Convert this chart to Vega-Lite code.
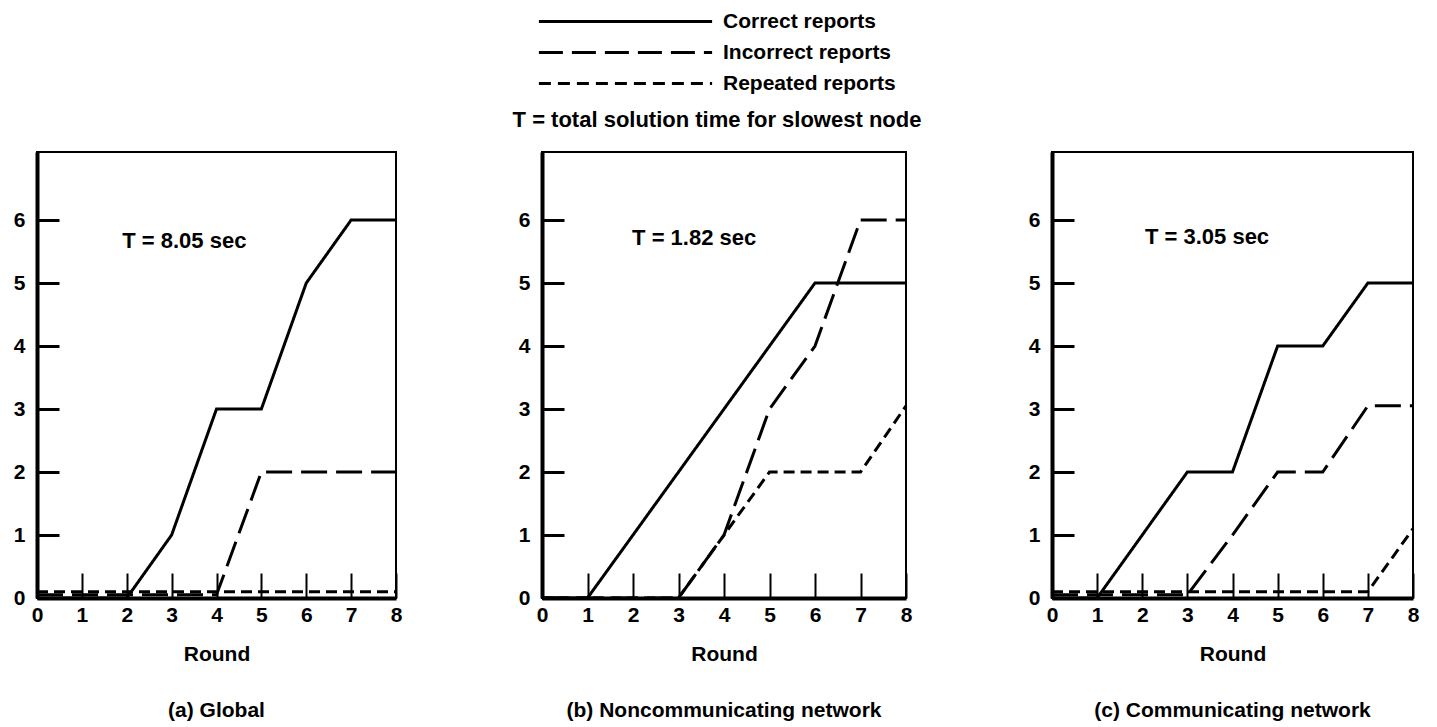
{
  "$schema": "https://vega.github.io/schema/vega-lite/v6.json",
  "padding": {"left": 12, "top": 0, "right": 0, "bottom": 0},
  "background": "white",
  "datasets": {
    "main": [
      {"panel": "a", "series": "Correct reports", "round": 0, "count": 0},
      {"panel": "a", "series": "Correct reports", "round": 1, "count": 0},
      {"panel": "a", "series": "Correct reports", "round": 2, "count": 0},
      {"panel": "a", "series": "Correct reports", "round": 3, "count": 1},
      {"panel": "a", "series": "Correct reports", "round": 4, "count": 3},
      {"panel": "a", "series": "Correct reports", "round": 5, "count": 3},
      {"panel": "a", "series": "Correct reports", "round": 6, "count": 5},
      {"panel": "a", "series": "Correct reports", "round": 7, "count": 6},
      {"panel": "a", "series": "Correct reports", "round": 8, "count": 6},
      {"panel": "a", "series": "Incorrect reports", "round": 0, "count": 0.05},
      {"panel": "a", "series": "Incorrect reports", "round": 1, "count": 0.05},
      {"panel": "a", "series": "Incorrect reports", "round": 2, "count": 0.05},
      {"panel": "a", "series": "Incorrect reports", "round": 3, "count": 0.05},
      {"panel": "a", "series": "Incorrect reports", "round": 4, "count": 0.05},
      {"panel": "a", "series": "Incorrect reports", "round": 5, "count": 2},
      {"panel": "a", "series": "Incorrect reports", "round": 6, "count": 2},
      {"panel": "a", "series": "Incorrect reports", "round": 7, "count": 2},
      {"panel": "a", "series": "Incorrect reports", "round": 8, "count": 2},
      {"panel": "a", "series": "Repeated reports", "round": 0, "count": 0.1},
      {"panel": "a", "series": "Repeated reports", "round": 1, "count": 0.1},
      {"panel": "a", "series": "Repeated reports", "round": 2, "count": 0.1},
      {"panel": "a", "series": "Repeated reports", "round": 3, "count": 0.1},
      {"panel": "a", "series": "Repeated reports", "round": 4, "count": 0.1},
      {"panel": "a", "series": "Repeated reports", "round": 5, "count": 0.1},
      {"panel": "a", "series": "Repeated reports", "round": 6, "count": 0.1},
      {"panel": "a", "series": "Repeated reports", "round": 7, "count": 0.1},
      {"panel": "a", "series": "Repeated reports", "round": 8, "count": 0.1},
      {"panel": "b", "series": "Correct reports", "round": 0, "count": 0},
      {"panel": "b", "series": "Correct reports", "round": 1, "count": 0},
      {"panel": "b", "series": "Correct reports", "round": 2, "count": 1},
      {"panel": "b", "series": "Correct reports", "round": 3, "count": 2},
      {"panel": "b", "series": "Correct reports", "round": 4, "count": 3},
      {"panel": "b", "series": "Correct reports", "round": 5, "count": 4},
      {"panel": "b", "series": "Correct reports", "round": 6, "count": 5},
      {"panel": "b", "series": "Correct reports", "round": 7, "count": 5},
      {"panel": "b", "series": "Correct reports", "round": 8, "count": 5},
      {"panel": "b", "series": "Incorrect reports", "round": 0, "count": 0},
      {"panel": "b", "series": "Incorrect reports", "round": 1, "count": 0},
      {"panel": "b", "series": "Incorrect reports", "round": 2, "count": 0},
      {"panel": "b", "series": "Incorrect reports", "round": 3, "count": 0},
      {"panel": "b", "series": "Incorrect reports", "round": 4, "count": 1},
      {"panel": "b", "series": "Incorrect reports", "round": 5, "count": 3},
      {"panel": "b", "series": "Incorrect reports", "round": 6, "count": 4},
      {"panel": "b", "series": "Incorrect reports", "round": 7, "count": 6},
      {"panel": "b", "series": "Incorrect reports", "round": 8, "count": 6},
      {"panel": "b", "series": "Repeated reports", "round": 0, "count": 0},
      {"panel": "b", "series": "Repeated reports", "round": 1, "count": 0},
      {"panel": "b", "series": "Repeated reports", "round": 2, "count": 0},
      {"panel": "b", "series": "Repeated reports", "round": 3, "count": 0},
      {"panel": "b", "series": "Repeated reports", "round": 4, "count": 1},
      {"panel": "b", "series": "Repeated reports", "round": 5, "count": 2},
      {"panel": "b", "series": "Repeated reports", "round": 6, "count": 2},
      {"panel": "b", "series": "Repeated reports", "round": 7, "count": 2},
      {"panel": "b", "series": "Repeated reports", "round": 8, "count": 3.05},
      {"panel": "c", "series": "Correct reports", "round": 0, "count": 0},
      {"panel": "c", "series": "Correct reports", "round": 1, "count": 0},
      {"panel": "c", "series": "Correct reports", "round": 2, "count": 1},
      {"panel": "c", "series": "Correct reports", "round": 3, "count": 2},
      {"panel": "c", "series": "Correct reports", "round": 4, "count": 2},
      {"panel": "c", "series": "Correct reports", "round": 5, "count": 4},
      {"panel": "c", "series": "Correct reports", "round": 6, "count": 4},
      {"panel": "c", "series": "Correct reports", "round": 7, "count": 5},
      {"panel": "c", "series": "Correct reports", "round": 8, "count": 5},
      {"panel": "c", "series": "Incorrect reports", "round": 0, "count": 0.05},
      {"panel": "c", "series": "Incorrect reports", "round": 1, "count": 0.05},
      {"panel": "c", "series": "Incorrect reports", "round": 2, "count": 0.05},
      {"panel": "c", "series": "Incorrect reports", "round": 3, "count": 0.05},
      {"panel": "c", "series": "Incorrect reports", "round": 4, "count": 1},
      {"panel": "c", "series": "Incorrect reports", "round": 5, "count": 2},
      {"panel": "c", "series": "Incorrect reports", "round": 6, "count": 2},
      {"panel": "c", "series": "Incorrect reports", "round": 7, "count": 3.05},
      {"panel": "c", "series": "Incorrect reports", "round": 8, "count": 3.05},
      {"panel": "c", "series": "Repeated reports", "round": 0, "count": 0.1},
      {"panel": "c", "series": "Repeated reports", "round": 1, "count": 0.1},
      {"panel": "c", "series": "Repeated reports", "round": 2, "count": 0.1},
      {"panel": "c", "series": "Repeated reports", "round": 3, "count": 0.1},
      {"panel": "c", "series": "Repeated reports", "round": 4, "count": 0.1},
      {"panel": "c", "series": "Repeated reports", "round": 5, "count": 0.1},
      {"panel": "c", "series": "Repeated reports", "round": 6, "count": 0.1},
      {"panel": "c", "series": "Repeated reports", "round": 7, "count": 0.1},
      {"panel": "c", "series": "Repeated reports", "round": 8, "count": 1.1}
    ],
    "notes": [
      {"panel": "a", "round": 1.9, "count": 5.67, "label": "T = 8.05 sec"},
      {"panel": "b", "round": 1.98, "count": 5.72, "label": "T = 1.82 sec"},
      {"panel": "c", "round": 2.06, "count": 5.73, "label": "T = 3.05 sec"}
    ],
    "keys": [
      {"series": "Correct reports", "round": -100, "count": -100},
      {"series": "Incorrect reports", "round": -100, "count": -100},
      {"series": "Repeated reports", "round": -100, "count": -100}
    ]
  },
  "vconcat": [
    {
      "width": 1360,
      "height": 100,
      "view": {"stroke": null},
      "title": {"text": "T = total solution time for slowest node", "orient": "bottom", "anchor": "middle", "offset": 10, "fontSize": 22},
      "data": {"name": "keys"},
      "mark": {"type": "line", "color": "black", "strokeWidth": 3, "clip": true},
      "encoding": {
        "x": {"field": "round", "type": "quantitative", "scale": {"domain": [0, 1]}, "axis": null},
        "y": {"field": "count", "type": "quantitative", "scale": {"domain": [0, 1]}, "axis": null},
        "strokeDash": {
          "field": "series", "type": "nominal",
          "scale": {"domain": ["Correct reports", "Incorrect reports", "Repeated reports"], "range": [[1, 0], [24, 9], [12, 7]]},
          "legend": {
            "orient": "none", "legendX": 578, "legendY": 11, "title": null,
            "symbolType": "M-10,0L10,0", "symbolSize": 300, "symbolStrokeWidth": 3, "symbolStrokeColor": "black", "symbolFillColor": "transparent",
            "labelFontSize": 21, "labelFontWeight": "bold", "labelColor": "black", "labelFont": "Liberation Sans",
            "labelOffset": 87, "labelLimit": 500, "rowPadding": 9, "padding": 0
          }
        }
      }
    },
    {
      "hconcat": [
        {
          "width": 359, "height": 446,
          "title": {"text": "(a) Global", "orient": "bottom", "anchor": "middle", "offset": 36},
          "layer": [
            {
              "data": {"name": "main"},
              "transform": [{"filter": "datum.panel === 'a'"}],
              "mark": {"type": "line", "color": "black", "strokeWidth": 3},
              "encoding": {
                "x": {"field": "round", "type": "quantitative", "scale": {"domain": [0, 8], "nice": false}, "axis": {"values": [0,1,2,3,4,5,6,7,8], "format": "d", "tickSize": -25, "tickWidth": 2, "labelPadding": 31, "title": "Round", "titlePadding": 18}},
                "y": {"field": "count", "type": "quantitative", "scale": {"domain": [0, 7.08], "nice": false}, "axis": {"values": [0,1,2,3,4,5,6], "format": "d", "tickSize": -22, "tickWidth": 3, "labelPadding": 34, "title": null}},
                "strokeDash": {"field": "series", "type": "nominal", "scale": {"domain": ["Correct reports", "Incorrect reports", "Repeated reports"], "range": [[1, 0], [26, 9], [11, 6]]}, "legend": null}
              }
            },
            {
              "data": {"name": "notes"},
              "transform": [{"filter": "datum.panel === 'a'"}],
              "mark": {"type": "text", "align": "left", "baseline": "middle", "fontSize": 22, "fontWeight": "bold", "color": "black"},
              "encoding": {
                "x": {"field": "round", "type": "quantitative"},
                "y": {"field": "count", "type": "quantitative"},
                "text": {"field": "label"}
              }
            }
          ]
        },
        {
          "width": 364, "height": 446,
          "title": {"text": "(b) Noncommunicating network", "orient": "bottom", "anchor": "middle", "offset": 36},
          "layer": [
            {
              "data": {"name": "main"},
              "transform": [{"filter": "datum.panel === 'b'"}],
              "mark": {"type": "line", "color": "black", "strokeWidth": 3},
              "encoding": {
                "x": {"field": "round", "type": "quantitative", "scale": {"domain": [0, 8], "nice": false}, "axis": {"values": [0,1,2,3,4,5,6,7,8], "format": "d", "tickSize": -25, "tickWidth": 2, "labelPadding": 31, "title": "Round", "titlePadding": 18}},
                "y": {"field": "count", "type": "quantitative", "scale": {"domain": [0, 7.08], "nice": false}, "axis": {"values": [0,1,2,3,4,5,6], "format": "d", "tickSize": -22, "tickWidth": 3, "labelPadding": 34, "title": null}},
                "strokeDash": {"field": "series", "type": "nominal", "scale": {"domain": ["Correct reports", "Incorrect reports", "Repeated reports"], "range": [[1, 0], [26, 9], [11, 6]]}, "legend": null}
              }
            },
            {
              "data": {"name": "notes"},
              "transform": [{"filter": "datum.panel === 'b'"}],
              "mark": {"type": "text", "align": "left", "baseline": "middle", "fontSize": 22, "fontWeight": "bold", "color": "black"},
              "encoding": {
                "x": {"field": "round", "type": "quantitative"},
                "y": {"field": "count", "type": "quantitative"},
                "text": {"field": "label"}
              }
            }
          ]
        },
        {
          "width": 361, "height": 446,
          "title": {"text": "(c) Communicating network", "orient": "bottom", "anchor": "middle", "offset": 36},
          "layer": [
            {
              "data": {"name": "main"},
              "transform": [{"filter": "datum.panel === 'c'"}],
              "mark": {"type": "line", "color": "black", "strokeWidth": 3},
              "encoding": {
                "x": {"field": "round", "type": "quantitative", "scale": {"domain": [0, 8], "nice": false}, "axis": {"values": [0,1,2,3,4,5,6,7,8], "format": "d", "tickSize": -25, "tickWidth": 2, "labelPadding": 31, "title": "Round", "titlePadding": 18}},
                "y": {"field": "count", "type": "quantitative", "scale": {"domain": [0, 7.08], "nice": false}, "axis": {"values": [0,1,2,3,4,5,6], "format": "d", "tickSize": -22, "tickWidth": 3, "labelPadding": 34, "title": null}},
                "strokeDash": {"field": "series", "type": "nominal", "scale": {"domain": ["Correct reports", "Incorrect reports", "Repeated reports"], "range": [[1, 0], [26, 9], [11, 6]]}, "legend": null}
              }
            },
            {
              "data": {"name": "notes"},
              "transform": [{"filter": "datum.panel === 'c'"}],
              "mark": {"type": "text", "align": "left", "baseline": "middle", "fontSize": 22, "fontWeight": "bold", "color": "black"},
              "encoding": {
                "x": {"field": "round", "type": "quantitative"},
                "y": {"field": "count", "type": "quantitative"},
                "text": {"field": "label"}
              }
            }
          ]
        }
      ],
      "spacing": 146,
      "bounds": "flush",
      "resolve": {"scale": {"strokeDash": "independent"}}
    }
  ],
  "spacing": 52,
  "bounds": "flush",
  "resolve": {"scale": {"strokeDash": "independent"}, "legend": {"strokeDash": "independent"}},
  "config": {
    "font": "Liberation Sans",
    "view": {"stroke": "black", "strokeWidth": 2},
    "axis": {
      "grid": false, "domainColor": "black", "domainWidth": 4, "tickColor": "black",
      "labelFont": "Liberation Sans", "labelFontSize": 21, "labelFontWeight": "bold", "labelColor": "black",
      "labelFlush": false, "labelOverlap": false,
      "titleFont": "Liberation Sans", "titleFontSize": 21, "titleFontWeight": "bold", "titleColor": "black"
    },
    "title": {"font": "Liberation Sans", "fontSize": 21, "fontWeight": "bold", "color": "black"}
  }
}
